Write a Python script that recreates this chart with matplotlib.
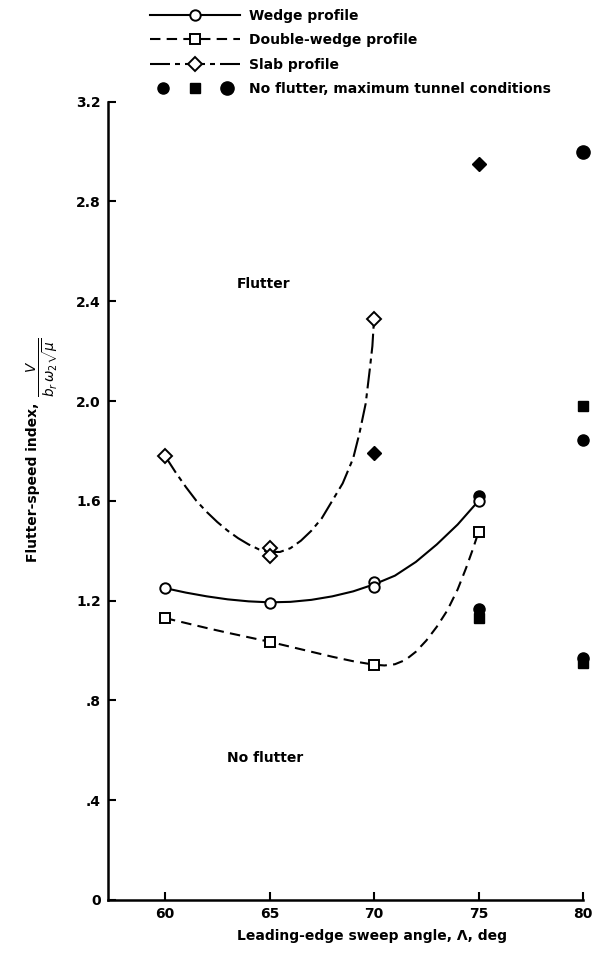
import matplotlib
matplotlib.use("Agg")
import matplotlib.pyplot as plt
from matplotlib.lines import Line2D
from matplotlib.legend_handler import HandlerTuple

# test points (open symbols)
wedge_x = [60, 65, 70, 70, 75]
wedge_y = [1.25, 1.19, 1.275, 1.255, 1.60]
dwedge_x = [60, 65, 70, 75]
dwedge_y = [1.13, 1.035, 0.94, 1.475]
slab_x = [60, 65, 65, 70]
slab_y = [1.78, 1.41, 1.38, 2.33]

# no flutter, maximum tunnel conditions (filled symbols)
nf_circle_x = [75, 75, 80, 80]
nf_circle_y = [1.62, 1.165, 1.845, 0.97]
nf_bigcircle_x = [80]
nf_bigcircle_y = [3.0]
nf_square_x = [75, 80, 80]
nf_square_y = [1.13, 1.98, 0.95]
nf_diamond_x = [70, 75]
nf_diamond_y = [1.79, 2.95]

# faired curves
wedge_curve_x = [60, 61, 62, 63, 64, 65, 66, 67, 68, 69, 70, 71, 72, 73, 74, 75]
wedge_curve_y = [1.25, 1.232, 1.217, 1.205, 1.197, 1.193, 1.195, 1.203, 1.217, 1.237,
                 1.265, 1.30, 1.355, 1.425, 1.505, 1.60]
dwedge_curve_x = [60, 61, 62, 63, 64, 65, 66, 67, 68, 69, 70, 70.5, 71, 71.5, 72, 72.5,
                  73, 73.5, 74, 74.4, 74.7, 75]
dwedge_curve_y = [1.13, 1.11, 1.09, 1.071, 1.053, 1.035, 1.015, 0.995, 0.975, 0.957, 0.943,
                  0.94, 0.945, 0.962, 0.995, 1.04, 1.095, 1.16, 1.245, 1.33, 1.40, 1.475]
slab_curve_x = [60, 60.5, 61, 61.5, 62, 62.5, 63, 63.5, 64, 64.5, 65, 65.5, 66, 66.5, 67,
                67.5, 68, 68.5, 69, 69.3, 69.6, 69.8, 69.92, 70]
slab_curve_y = [1.78, 1.715, 1.655, 1.60, 1.555, 1.515, 1.48, 1.45, 1.425, 1.405, 1.395,
                1.395, 1.41, 1.44, 1.48, 1.53, 1.60, 1.67, 1.77, 1.87, 1.99, 2.13, 2.22, 2.33]

x_ticks = [60, 65, 70, 75, 80]
y_ticks = [0, 0.4, 0.8, 1.2, 1.6, 2.0, 2.4, 2.8, 3.2]
y_ticklabels = ["0", ".4", ".8", "1.2", "1.6", "2.0", "2.4", "2.8", "3.2"]

plt.rcParams["font.family"] = "DejaVu Sans"
plt.rcParams["font.weight"] = "bold"
plt.rcParams["axes.labelweight"] = "bold"
plt.rcParams["mathtext.fontset"] = "custom"
plt.rcParams["mathtext.rm"] = "DejaVu Sans:weight=normal"
plt.rcParams["mathtext.it"] = "DejaVu Sans:italic:weight=normal"
plt.rcParams["mathtext.default"] = "it"
FS = 10
LW = 1.5
DASH = (0, (5, 3))
DASHDOT = (0, (9.6, 2.4, 2.4, 2.4))

fig = plt.figure(figsize=(6.03, 9.55), dpi=100)
ax = fig.add_axes([0.179, 0.0576, 0.788, 0.836])

ax.plot(wedge_curve_x, wedge_curve_y, color="k", lw=LW, ls="-")
ax.plot(dwedge_curve_x, dwedge_curve_y, color="k", lw=LW, ls=DASH)
ax.plot(slab_curve_x, slab_curve_y, color="k", lw=LW, ls=DASHDOT)

open_kw = dict(ls="none", mfc="white", mec="k", mew=1.4, zorder=4, clip_on=False)
ax.plot(wedge_x, wedge_y, marker="o", ms=7.5, **open_kw)
ax.plot(dwedge_x, dwedge_y, marker="s", ms=7, **open_kw)
ax.plot(slab_x, slab_y, marker="D", ms=7, **open_kw)

fill_kw = dict(ls="none", color="k", zorder=3, clip_on=False)
ax.plot(nf_circle_x, nf_circle_y, marker="o", ms=8, **fill_kw)
ax.plot(nf_bigcircle_x, nf_bigcircle_y, marker="o", ms=9.5, **fill_kw)
ax.plot(nf_square_x, nf_square_y, marker="s", ms=7.5, **fill_kw)
ax.plot(nf_diamond_x, nf_diamond_y, marker="D", ms=7.5, **fill_kw)

ax.text(64.7, 2.47, "Flutter", ha="center", va="center", fontsize=FS)
ax.text(64.8, 0.57, "No flutter", ha="center", va="center", fontsize=FS)

ax.set_xlim(57.27, 80)
ax.set_ylim(0, 3.2)
ax.set_xticks(x_ticks)
ax.set_yticks(y_ticks)
ax.set_yticklabels(y_ticklabels)
ax.tick_params(direction="in", length=6, width=1.5, labelsize=FS, pad=5)
for s in ("top", "right"):
    ax.spines[s].set_visible(False)
for s in ("left", "bottom"):
    ax.spines[s].set_linewidth(1.8)

ax.set_xlabel("Leading-edge sweep angle, Λ, deg", fontsize=FS, x=0.556, labelpad=6)
ax.set_ylabel("Flutter-speed index,", fontsize=FS)
ax.yaxis.set_label_coords(-0.143, 0.523)
ax.text(-0.139, 0.667, r"$\frac{V}{b_r\,\omega_2\sqrt{\mu}}$", transform=ax.transAxes,
        rotation=90, ha="center", va="center", fontsize=14)

handles = [
    Line2D([], [], color="k", lw=LW, ls="-", marker="o", ms=7.5, mfc="white", mec="k", mew=1.4),
    Line2D([], [], color="k", lw=LW, ls=DASH, marker="s", ms=7, mfc="white", mec="k", mew=1.4),
    Line2D([], [], color="k", lw=LW, ls=DASHDOT, marker="D", ms=7, mfc="white", mec="k", mew=1.4),
    (Line2D([], [], ls="none", marker="o", ms=8, color="k"),
     Line2D([], [], ls="none", marker="s", ms=7.5, color="k"),
     Line2D([], [], ls="none", marker="o", ms=9.5, color="k")),
]
labels = ["Wedge profile", "Double-wedge profile", "Slab profile",
          "No flutter, maximum tunnel conditions"]
fig.legend(handles, labels, loc="upper left", bbox_to_anchor=(0.249, 0.991),
           frameon=False, fontsize=FS, handlelength=6.5, handletextpad=0.6,
           borderpad=0, borderaxespad=0, labelspacing=0.76, numpoints=1,
           handler_map={tuple: HandlerTuple(ndivide=None, pad=0.4)})

fig.savefig("out.png", dpi=100)
